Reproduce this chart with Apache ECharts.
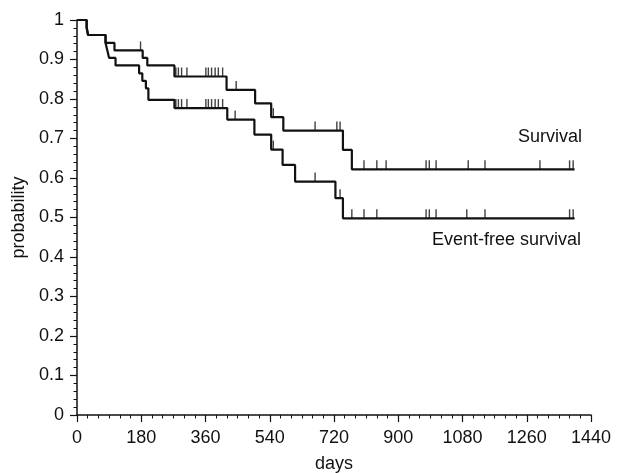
<!DOCTYPE html>
<html>
<head>
<meta charset="utf-8">
<script src="https://cdn.jsdelivr.net/npm/echarts@6/dist/echarts.min.js"></script>
<style>
  html, body { margin: 0; padding: 0; background: #fff; }
  #chart { width: 625px; height: 473px; }
</style>
</head>
<body>
<div id="chart"></div>
<script>
// step points: day at which the curve drops, and the new probability
const survivalDays = [0, 27, 31, 80, 105, 184, 197, 273, 419, 499, 544, 578, 745, 770]
const survivalProb = [1, 0.981, 0.962, 0.942, 0.923, 0.904, 0.885, 0.857, 0.823, 0.789, 0.754, 0.72, 0.671, 0.622]
const survivalEnd = 1394

const eventFreeDays = [0, 27, 31, 80, 85, 90, 108, 174, 183, 193, 200, 273, 421, 497, 544, 576, 611, 724, 745]
const eventFreeProb = [1, 0.981, 0.962, 0.942, 0.923, 0.904, 0.885, 0.865, 0.846, 0.827, 0.798, 0.777, 0.748, 0.71, 0.672, 0.633, 0.591, 0.549, 0.498]
const eventFreeEnd = 1394

// censored observations (tick marks)
const survivalCensored = [178, 277, 284, 293, 308, 361, 368, 377, 387, 396, 408, 446, 550, 667, 728, 737,
  804, 840, 866, 978, 987, 1006, 1096, 1143, 1297, 1380, 1390]
const eventFreeCensored = [277, 284, 293, 308, 361, 368, 377, 387, 396, 408, 443, 550, 667, 737,
  770, 804, 840, 978, 987, 1006, 1092, 1143, 1380, 1390]

const xTicks = [0, 180, 360, 540, 720, 900, 1080, 1260, 1440]

const ink = '#111'
const font = 'Liberation Sans'

// build step data
const stepData = (days, prob, end) => {
  const d = days.map((t, i) => [t, prob[i]])
  d.push([end, prob[prob.length - 1]])
  return d
}

// value of the curve at time t
const probAt = (days, prob, t) => {
  let p = prob[0]
  for (let i = 0; i < days.length; i++) {
    if (days[i] <= t) p = prob[i]
  }
  return p
}

const censorData = (times, days, prob) => times.map(t => [t, probAt(days, prob, t)])

const chart = echarts.init(document.getElementById('chart'))

const lineSeries = (name, data) => ({
  name: name,
  type: 'line',
  step: 'end',
  data: data,
  symbol: 'none',
  lineStyle: { color: ink, width: 2.2 },
  animation: false
})

const tickSeries = (name, data) => ({
  name: name,
  type: 'scatter',
  data: data,
  symbol: 'rect',
  symbolSize: [1.4, 9],
  symbolOffset: [0, -4.5],
  itemStyle: { color: ink },
  animation: false
})

chart.setOption({
  backgroundColor: '#fff',
  textStyle: { fontFamily: font },
  grid: { left: 77, right: 34, top: 20, bottom: 58, containLabel: false, outerBoundsMode: 'none' },
  xAxis: {
    type: 'value',
    min: 0,
    max: 1440,
    interval: 180,
    name: 'days',
    nameLocation: 'middle',
    nameGap: 40,
    nameTextStyle: { color: ink, fontSize: 18, fontFamily: font },
    axisLine: { lineStyle: { color: ink, width: 1.5 } },
    axisTick: { lineStyle: { color: ink, width: 1.2 }, length: 7 },
    minorTick: { show: true, splitNumber: 6, length: 3.5, lineStyle: { color: ink } },
    axisLabel: {
      color: ink, fontSize: 18, fontFamily: font, margin: 14,
      formatter: v => xTicks.includes(v) ? String(v) : ''
    },
    splitLine: { show: false }
  },
  yAxis: {
    type: 'value',
    min: 0,
    max: 1,
    interval: 0.1,
    name: 'probability',
    nameLocation: 'middle',
    nameGap: 47,
    nameTextStyle: { color: ink, fontSize: 18, fontFamily: font },
    axisLine: { show: true, lineStyle: { color: ink, width: 1.5 } },
    axisTick: { show: true, lineStyle: { color: ink, width: 1.2 }, length: 7 },
    minorTick: { show: true, splitNumber: 5, length: 3.5, lineStyle: { color: ink } },
    axisLabel: { color: ink, fontSize: 18, fontFamily: font, margin: 13 },
    splitLine: { show: false }
  },
  graphic: [
    {
      type: 'text', right: 43, top: 128,
      style: { text: 'Survival', fill: ink, font: '18px "Liberation Sans"' }
    },
    {
      type: 'text', right: 44, top: 231,
      style: { text: 'Event-free survival', fill: ink, font: '18px "Liberation Sans"' }
    }
  ],
  series: [
    lineSeries('Survival', stepData(survivalDays, survivalProb, survivalEnd)),
    lineSeries('Event-free survival', stepData(eventFreeDays, eventFreeProb, eventFreeEnd)),
    tickSeries('Survival censored', censorData(survivalCensored, survivalDays, survivalProb)),
    tickSeries('Event-free censored', censorData(eventFreeCensored, eventFreeDays, eventFreeProb))
  ]
})

window.addEventListener('resize', () => chart.resize())
</script>
</body>
</html>
